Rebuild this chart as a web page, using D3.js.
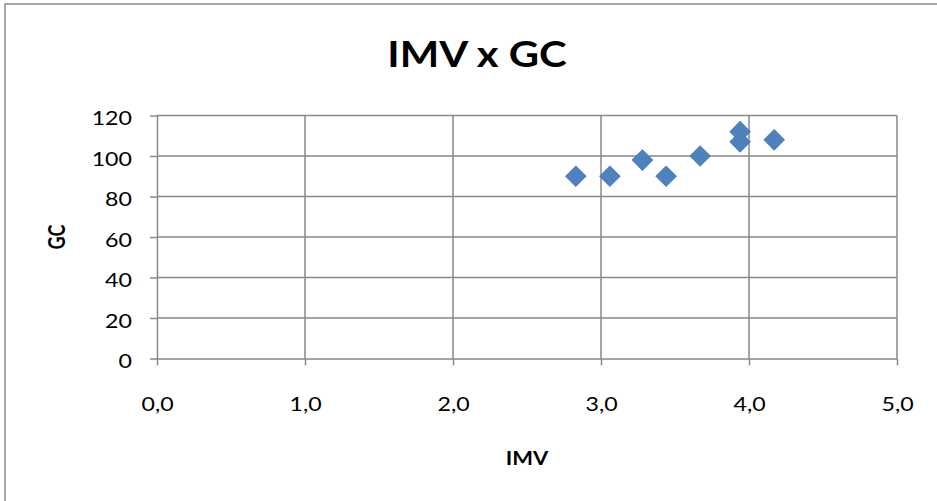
<!DOCTYPE html>
<html>
<head>
<meta charset="utf-8">
<script src="https://cdn.jsdelivr.net/npm/d3@7"></script>
<style>
  html, body { margin: 0; padding: 0; background: #fff; }
  svg { display: block; }
  text { font-family: Lato, "Open Sans", sans-serif; fill: #000; }
</style>
</head>
<body>
<svg id="chart" width="937" height="501"></svg>
<script>
// IMV vs GC observations
const imv = [2.83, 3.06, 3.28, 3.44, 3.67, 3.94, 3.94, 4.17];
const gc  = [90, 90, 98, 90, 100, 107, 112, 108];

// axis ticks and labels
const xTicks = [0, 1, 2, 3, 4, 5];
const xTickLabels = ["0,0", "1,0", "2,0", "3,0", "4,0", "5,0"];
const yTicks = [0, 20, 40, 60, 80, 100, 120];
const yTickLabels = ["0", "20", "40", "60", "80", "100", "120"];

const chartTitle = "IMV x GC";
const xTitle = "IMV";
const yTitle = "GC";

const W = 937, H = 501;
const plot = { left: 157, right: 897, top: 115.5, bottom: 358.5 };
const stretch = 1.22;          // wide lettering
const gridColor = "#898989";
const markerColor = "#4F81BD";

const svg = d3.select("#chart");

// outer chart frame
svg.append("rect")
  .attr("x", 5).attr("y", 4)
  .attr("width", W + 10).attr("height", H + 10)
  .attr("fill", "#fff")
  .attr("stroke", "#8a8a8a")
  .attr("stroke-width", 1.5);

const x = d3.scaleLinear().domain([0, 5]).range([plot.left, plot.right]);
const y = d3.scaleLinear().domain([0, 120]).range([plot.bottom, plot.top]);

// gridlines
const grid = svg.append("g").attr("stroke", gridColor).attr("stroke-width", 1.5);
grid.selectAll("line.h").data(yTicks.filter(d => d > 0)).join("line")
  .attr("class", "h")
  .attr("x1", plot.left).attr("x2", plot.right)
  .attr("y1", d => y(d)).attr("y2", d => y(d));
grid.selectAll("line.v").data(xTicks.filter(d => d > 0)).join("line")
  .attr("class", "v")
  .attr("y1", plot.top).attr("y2", plot.bottom)
  .attr("x1", d => x(d)).attr("x2", d => x(d));

// axes
function styleAxis(g) {
  g.selectAll("path.domain").attr("stroke", gridColor).attr("stroke-width", 1.5);
  g.selectAll(".tick line").attr("stroke", gridColor).attr("stroke-width", 1.5);
  g.selectAll(".tick text")
    .style("font-family", "Lato, 'Open Sans', sans-serif")
    .style("font-size", "19px")
    .attr("fill", "#000");
}

const yAxis = svg.append("g")
  .attr("transform", `translate(${plot.left},0)`)
  .call(d3.axisLeft(y).tickValues(yTicks).tickSize(7).tickSizeOuter(0)
    .tickPadding(0).tickFormat((d, i) => yTickLabels[i]))
  .call(styleAxis);
yAxis.selectAll(".tick text")
  .attr("x", null).attr("dy", null)
  .attr("transform", `translate(-25,9) scale(${stretch},1)`);

const xAxis = svg.append("g")
  .attr("transform", `translate(0,${plot.bottom})`)
  .call(d3.axisBottom(x).tickValues(xTicks).tickSize(7).tickSizeOuter(0)
    .tickPadding(0).tickFormat((d, i) => xTickLabels[i]))
  .call(styleAxis);
xAxis.selectAll(".tick text")
  .attr("y", null).attr("dy", null)
  .attr("transform", `translate(0,52) scale(${stretch},1)`);

// markers
const diamond = d3.symbol(d3.symbolSquare, 205);
svg.append("g").selectAll("path").data(imv.map((v, i) => [v, gc[i]])).join("path")
  .attr("d", diamond)
  .attr("transform", d => `translate(${x(d[0])},${y(d[1])}) rotate(45)`)
  .attr("fill", markerColor)
  .attr("stroke", "#4A7EBB")
  .attr("stroke-width", 1);

// titles
svg.append("text")
  .attr("transform", `translate(477,67) scale(1.13,1)`)
  .attr("text-anchor", "middle")
  .style("font-size", "37px").style("font-weight", "bold")
  .text(chartTitle);

svg.append("text")
  .attr("transform", `translate(${(plot.left + plot.right) / 2},465) scale(${stretch},1)`)
  .attr("text-anchor", "middle")
  .style("font-size", "18px").style("font-weight", "bold")
  .text(xTitle);

svg.append("text")
  .attr("transform", `translate(65,${(plot.top + plot.bottom) / 2}) scale(${stretch},1) rotate(-90)`)
  .attr("text-anchor", "middle")
  .style("font-size", "18px").style("font-weight", "bold")
  .text(yTitle);
</script>
</body>
</html>
